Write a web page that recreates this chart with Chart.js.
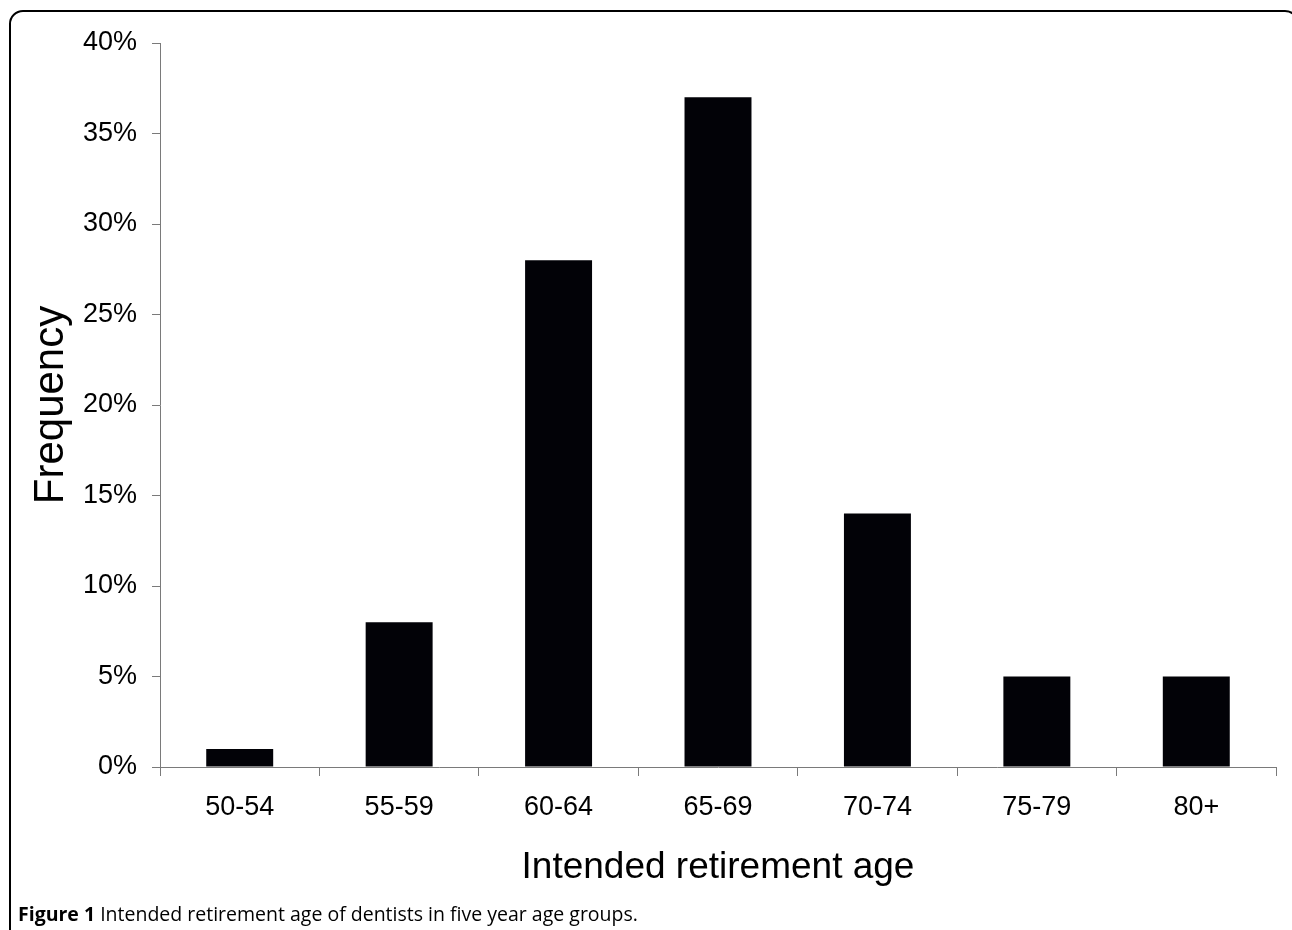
<!DOCTYPE html>
<html>
<head>
<meta charset="utf-8">
<script src="https://cdn.jsdelivr.net/npm/chart.js@4.4.1/dist/chart.umd.min.js"></script>
<style>
  body { margin: 0; background: #fff; }
  #wrap { position: relative; width: 1292px; height: 930px; overflow: hidden; }
  #frame {
    position: absolute; left: 9px; top: 10px; width: 1290px; height: 1000px;
    box-sizing: border-box; border: 2px solid #000; border-radius: 14px;
  }
  #myChart { position: absolute; left: 0; top: 0; }
  #caption {
    position: absolute; left: 18px; top: 904px; white-space: nowrap;
    font-family: "Open Sans", sans-serif; font-size: 19.5px; line-height: 19px;
    font-weight: 500; color: #000;
  }
  #caption b { font-weight: 700; }
</style>
</head>
<body>
<div id="wrap">
  <div id="frame"></div>
  <canvas id="myChart" width="1292" height="930"></canvas>
  <div id="caption"><b>Figure 1</b> Intended retirement age of dentists in five year age groups.</div>
</div>
<script>
const ageGroups = ['50-54', '55-59', '60-64', '65-69', '70-74', '75-79', '80+'];
const frequency = [1, 8, 28, 37, 14, 5, 5];
const yMin = 0;
const yMax = 40;
const yStep = 5;

const axisColor = '#7a7a7a';
const chartFont = '"Liberation Sans", Arial, sans-serif';

const ctx = document.getElementById('myChart').getContext('2d');
const myChart = new Chart(ctx, {
    type: 'bar',
    data: {
        labels: ageGroups,
        datasets: [{
            data: frequency,
            backgroundColor: '#020207',
            borderWidth: 0,
            barPercentage: 0.42,
            categoryPercentage: 1
        }]
    },
    options: {
        responsive: false,
        devicePixelRatio: 1,
        animation: false,
        layout: { padding: { left: 0, right: 16, top: 43, bottom: 0 } },
        plugins: { legend: { display: false }, tooltip: { enabled: false } },
        scales: {
            x: {
                grid: { drawOnChartArea: false, drawTicks: true, tickLength: 9, color: axisColor, offset: true },
                border: { display: true, color: axisColor, width: 1 },
                ticks: { color: '#000', padding: 15, font: { family: chartFont, size: 27 } },
                title: {
                    display: true, text: 'Intended retirement age', color: '#000',
                    font: { family: chartFont, size: 37 }, padding: { top: 0, bottom: 40 }
                },
                afterFit: function(scale) { scale.height = 163; }
            },
            y: {
                min: yMin,
                max: yMax,
                grid: { drawOnChartArea: false, drawTicks: true, tickLength: 8, color: axisColor },
                border: { display: true, color: axisColor, width: 1 },
                ticks: {
                    stepSize: yStep, color: '#000', padding: 15,
                    font: { family: chartFont, size: 27 },
                    callback: function(value) { return value + '%'; }
                },
                title: {
                    display: true, text: 'Frequency', color: '#000',
                    font: { family: chartFont, size: 42 }, padding: { top: 26, bottom: 0 }
                },
                afterFit: function(scale) { scale.width = 160; }
            }
        }
    }
});
</script>
</body>
</html>
